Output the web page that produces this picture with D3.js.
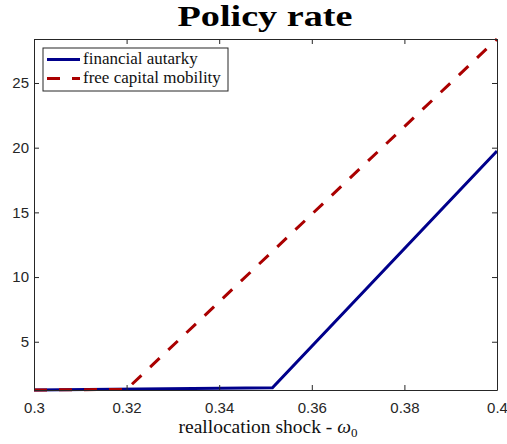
<!DOCTYPE html>
<html>
<head>
<meta charset="utf-8">
<script src="https://cdn.jsdelivr.net/npm/d3@7"></script>
<style>
  body { margin: 0; background: #fff; }
  svg { display: block; }
</style>
</head>
<body>
<div id="chart"></div>
<script>
// omega_0 grid points where the curves bend
const autarkyX = [0.3, 0.3515, 0.4];
const autarkyY = [1.27, 1.44, 19.74];
const mobilityX = [0.3, 0.32, 0.4];
const mobilityY = [1.27, 1.32, 28.4];
const xTicks = [0.3, 0.32, 0.34, 0.36, 0.38, 0.4];
const yTicks = [5, 10, 15, 20, 25];
const seriesNames = ["financial autarky", "free capital mobility"];

const width = 507, height = 444;
const margin = { top: 39, right: 10, bottom: 54, left: 34 };
const axisColor = "#262626";

const svg = d3.select("#chart").append("svg")
  .attr("width", width)
  .attr("height", height);

const x = d3.scaleLinear().domain([0.3, 0.4]).range([margin.left, width - margin.right]);
const y = d3.scaleLinear().domain([1.27, 28.4]).range([height - margin.bottom, margin.top]);

const line = d3.line().x(d => x(d[0])).y(d => y(d[1]));

const plot = svg.append("g");

// curves
plot.append("path")
  .datum(autarkyX.map((v, i) => [v, autarkyY[i]]))
  .attr("d", line)
  .attr("fill", "none")
  .attr("stroke", "#00008b")
  .attr("stroke-width", 3);

plot.append("path")
  .datum(mobilityX.map((v, i) => [v, mobilityY[i]]))
  .attr("d", line)
  .attr("fill", "none")
  .attr("stroke", "#aa0000")
  .attr("stroke-width", 3)
  .attr("stroke-dasharray", "13,12");

// axes (ticks pointing inward, mirrored on top/right)
const tickFmt = d => d === 0.3 ? "0.3" : d === 0.4 ? "0.4" : d3.format(".2f")(d);
const axB = svg.append("g")
  .attr("transform", `translate(0,${height - margin.bottom})`)
  .call(d3.axisBottom(x).tickValues(xTicks).tickFormat(tickFmt).tickSizeInner(-5).tickSizeOuter(0).tickPadding(12));
const axT = svg.append("g")
  .attr("transform", `translate(0,${margin.top})`)
  .call(d3.axisTop(x).tickValues(xTicks).tickFormat("").tickSizeInner(-5).tickSizeOuter(0));
const axL = svg.append("g")
  .attr("transform", `translate(${margin.left},0)`)
  .call(d3.axisLeft(y).tickValues(yTicks).tickSizeInner(-5).tickSizeOuter(0).tickPadding(5));
const axR = svg.append("g")
  .attr("transform", `translate(${width - margin.right},0)`)
  .call(d3.axisRight(y).tickValues(yTicks).tickFormat("").tickSizeInner(-5).tickSizeOuter(0));

[axB, axT, axL, axR].forEach(g => {
  g.selectAll("path.domain").attr("stroke", axisColor).attr("stroke-width", 1);
  g.selectAll(".tick line").attr("stroke", axisColor);
  g.selectAll(".tick text")
    .attr("fill", axisColor)
    .style("font-family", "'Liberation Sans', Arial, sans-serif")
    .style("font-size", "15px");
});

// title
svg.append("text")
  .attr("x", 265).attr("y", 26)
  .attr("text-anchor", "middle")
  .attr("textLength", 175)
  .attr("lengthAdjust", "spacingAndGlyphs")
  .style("font-family", "'Liberation Serif', 'DejaVu Serif', serif")
  .style("font-weight", "bold")
  .style("font-size", "29px")
  .text("Policy rate");

// x label
const xl = svg.append("text")
  .attr("x", 268).attr("y", 433)
  .attr("text-anchor", "middle")
  .style("font-family", "'Liberation Serif', 'DejaVu Serif', serif")
  .style("font-size", "19.5px")
  .attr("fill", "#111");
xl.append("tspan").text("reallocation shock - ");
xl.append("tspan").style("font-style", "italic").text("ω");
xl.append("tspan").attr("dy", 4).style("font-size", "13px").text("0");

// legend
const lg = svg.append("g").attr("transform", "translate(43,48)");
lg.append("rect")
  .attr("width", 185).attr("height", 43)
  .attr("fill", "#fff")
  .attr("stroke", axisColor).attr("stroke-width", 1);
const legColors = ["#00008b", "#aa0000"];
const legDash = [null, "13,12"];
seriesNames.forEach((name, i) => {
  const row = lg.append("g").attr("transform", `translate(0,${11.5 + i * 19})`);
  row.append("line")
    .attr("x1", 4).attr("x2", 37)
    .attr("stroke", legColors[i]).attr("stroke-width", 3)
    .attr("stroke-dasharray", legDash[i]);
  row.append("text")
    .attr("x", 40).attr("y", 4)
    .style("font-family", "'Liberation Serif', 'DejaVu Serif', serif")
    .style("font-size", "17px")
    .attr("fill", "#111")
    .text(name);
});
</script>
</body>
</html>
